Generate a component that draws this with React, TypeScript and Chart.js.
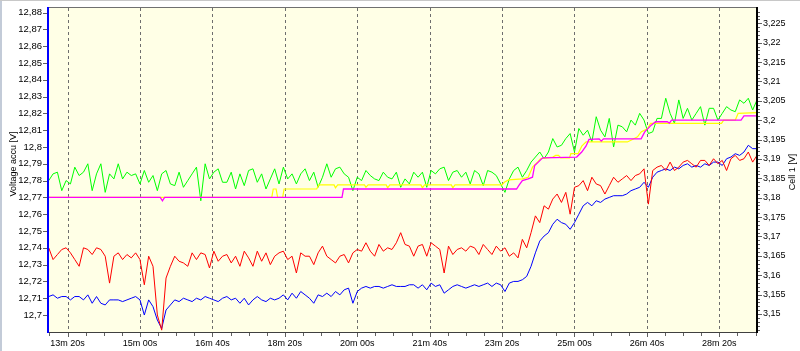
import React, { useEffect, useRef } from 'react';
import { Chart, registerables } from 'chart.js';

Chart.register(...registerables);

// Sampling of the noisy series: one value every 6 s starting at 774 s
const T_START = 774;
const T_STEP = 6;

const GREEN = [
  12.780, 12.784, 12.785, 12.774, 12.780, 12.778, 12.788, 12.783, 12.785, 12.790,
  12.774, 12.784, 12.790, 12.773, 12.784, 12.781, 12.790, 12.781, 12.785, 12.783,
  12.784, 12.778, 12.786, 12.779, 12.783, 12.774, 12.784, 12.786, 12.778, 12.777,
  12.785, 12.776, 12.780, 12.784, 12.788, 12.768, 12.790, 12.781, 12.785, 12.787,
  12.779, 12.779, 12.785, 12.775, 12.784, 12.777, 12.786, 12.787, 12.779, 12.784,
  12.775, 12.781, 12.787, 12.778, 12.788, 12.781, 12.784, 12.778, 12.784, 12.787,
  12.780, 12.785, 12.776, 12.782, 12.790, 12.782, 12.787, 12.788, 12.784, 12.782,
  12.774, 12.782, 12.780, 12.786, 12.783, 12.781, 12.780, 12.785, 12.782, 12.781,
  12.785, 12.776, 12.781, 12.778, 12.785, 12.782, 12.785, 12.776, 12.786, 12.784,
  12.787, 12.788, 12.780, 12.785, 12.786, 12.782, 12.785, 12.778, 12.786, 12.784,
  12.777, 12.786, 12.785, 12.783, 12.778, 12.773, 12.781, 12.786, 12.788, 12.782,
  12.786, 12.791, 12.794, 12.797, 12.793, 12.797, 12.805, 12.800, 12.801, 12.805,
  12.808, 12.797, 12.811, 12.807, 12.810, 12.803, 12.818, 12.810, 12.806, 12.817,
  12.800, 12.813, 12.812, 12.809, 12.816, 12.813, 12.820, 12.816, 12.808, 12.809,
  12.817, 12.817, 12.829, 12.820, 12.814, 12.828, 12.817, 12.823, 12.816, 12.820,
  12.824, 12.813, 12.823, 12.823, 12.816, 12.820, 12.824, 12.822, 12.821, 12.828,
  12.826, 12.829, 12.822, 12.828,
];

const RED = [
  12.740, 12.733, 12.736, 12.739, 12.740, 12.737, 12.733, 12.729, 12.740, 12.739,
  12.736, 12.740, 12.739, 12.735, 12.719, 12.735, 12.737, 12.733, 12.736, 12.734,
  12.737, 12.733, 12.718, 12.735, 12.729, 12.700, 12.691, 12.722, 12.729, 12.735,
  12.732, 12.731, 12.729, 12.737, 12.733, 12.737, 12.736, 12.728, 12.738, 12.732,
  12.735, 12.736, 12.731, 12.735, 12.729, 12.738, 12.734, 12.729, 12.738, 12.732,
  12.737, 12.730, 12.735, 12.737, 12.738, 12.733, 12.735, 12.725, 12.737, 12.735,
  12.735, 12.730, 12.737, 12.741, 12.735, 12.733, 12.731, 12.735, 12.736, 12.731,
  12.737, 12.739, 12.738, 12.743, 12.738, 12.735, 12.742, 12.738, 12.740, 12.739,
  12.743, 12.749, 12.742, 12.741, 12.735, 12.741, 12.742, 12.735, 12.743, 12.741,
  12.739, 12.725, 12.741, 12.736, 12.739, 12.740, 12.738, 12.741, 12.740, 12.736,
  12.742, 12.739, 12.736, 12.741, 12.738, 12.740, 12.735, 12.737, 12.734, 12.745,
  12.740, 12.749, 12.759, 12.755, 12.765, 12.763, 12.769, 12.772, 12.767, 12.773,
  12.760, 12.776, 12.777, 12.780, 12.774, 12.782, 12.778, 12.777, 12.772, 12.777,
  12.782, 12.779, 12.781, 12.783, 12.780, 12.783, 12.784, 12.787, 12.766, 12.786,
  12.788, 12.789, 12.786, 12.791, 12.786, 12.788, 12.791, 12.792, 12.790, 12.788,
  12.792, 12.792, 12.789, 12.793, 12.790, 12.792, 12.786, 12.793, 12.795, 12.792,
  12.793, 12.797, 12.791, 12.795,
];

const BLUE = [
  12.711, 12.712, 12.710, 12.711, 12.711, 12.709, 12.711, 12.711, 12.709, 12.712,
  12.707, 12.711, 12.707, 12.706, 12.709, 12.709, 12.709, 12.708, 12.709, 12.710,
  12.711, 12.709, 12.700, 12.709, 12.705, 12.697, 12.692, 12.703, 12.706, 12.709,
  12.708, 12.710, 12.709, 12.708, 12.710, 12.709, 12.711, 12.710, 12.709, 12.708,
  12.710, 12.711, 12.709, 12.710, 12.707, 12.710, 12.706, 12.709, 12.711, 12.709,
  12.708, 12.710, 12.709, 12.710, 12.712, 12.709, 12.713, 12.710, 12.714, 12.712,
  12.710, 12.707, 12.712, 12.711, 12.713, 12.711, 12.714, 12.712, 12.715, 12.716,
  12.707, 12.714, 12.716, 12.717, 12.716, 12.717, 12.717, 12.716, 12.717, 12.718,
  12.717, 12.717, 12.717, 12.718, 12.718, 12.716, 12.718, 12.715, 12.719, 12.717,
  12.718, 12.713, 12.715, 12.717, 12.718, 12.717, 12.716, 12.717, 12.718, 12.717,
  12.718, 12.719, 12.717, 12.719, 12.718, 12.714, 12.719, 12.720, 12.720, 12.721,
  12.723, 12.729, 12.737, 12.744, 12.747, 12.749, 12.754, 12.757, 12.755, 12.754,
  12.751, 12.755, 12.760, 12.765, 12.767, 12.765, 12.768, 12.767, 12.769, 12.770,
  12.771, 12.771, 12.771, 12.772, 12.774, 12.775, 12.776, 12.779, 12.776, 12.782,
  12.785, 12.786, 12.787, 12.786, 12.788, 12.787, 12.789, 12.790, 12.788, 12.789,
  12.788, 12.790, 12.789, 12.791, 12.791, 12.789, 12.793, 12.794, 12.796, 12.795,
  12.797, 12.801, 12.799, 12.799,
];

// Step-like series given as (time, value) corners
const MAGENTA_T = [774, 928, 931, 934, 1179, 1181, 1420, 1423, 1428, 1436, 1442, 1445, 1450, 1456, 1503, 1510, 1516, 1520, 1534, 1537, 1540, 1592, 1597, 1606, 1612, 1628, 1631, 1634, 1730, 1734, 1753];
const MAGENTA_V = [12.770, 12.770, 12.768, 12.770, 12.770, 12.775, 12.775, 12.777, 12.780, 12.781, 12.782, 12.789, 12.791, 12.7935, 12.794, 12.797, 12.8006, 12.8045, 12.8048, 12.8035, 12.8048, 12.8048, 12.809, 12.813, 12.815, 12.815, 12.8142, 12.816, 12.816, 12.8185, 12.8185];

const YELLOW_T = [774, 1082, 1084, 1088, 1090, 1097, 1099, 1144, 1147, 1168, 1170, 1173, 1210, 1212, 1215, 1240, 1242, 1245, 1288, 1290, 1293, 1330, 1332, 1335, 1400, 1403, 1409, 1428, 1436, 1442, 1449, 1453, 1470, 1474, 1478, 1481, 1493, 1495, 1505, 1510, 1516, 1573, 1580, 1587, 1592, 1601, 1605, 1703, 1706, 1722, 1726, 1753];
const YELLOW_V = [12.770, 12.770, 12.775, 12.775, 12.770, 12.770, 12.775, 12.775, 12.7774, 12.7774, 12.7757, 12.7774, 12.7774, 12.776, 12.7774, 12.7774, 12.7757, 12.7774, 12.7774, 12.7757, 12.7774, 12.7774, 12.7757, 12.7774, 12.7774, 12.779, 12.7804, 12.781, 12.782, 12.788, 12.791, 12.793, 12.794, 12.795, 12.795, 12.7935, 12.7935, 12.796, 12.796, 12.8005, 12.803, 12.803, 12.8045, 12.806, 12.809, 12.811, 12.814, 12.814, 12.816, 12.816, 12.820, 12.8205];

const X_LABEL_TIMES = [800, 900, 1000, 1100, 1200, 1300, 1400, 1500, 1600, 1700];
const LEFT_TICKS = [12.70, 12.71, 12.72, 12.73, 12.74, 12.75, 12.76, 12.77, 12.78, 12.79, 12.80, 12.81, 12.82, 12.83, 12.84, 12.85, 12.86, 12.87, 12.88];
const RIGHT_TICKS = [3.150, 3.155, 3.160, 3.165, 3.170, 3.175, 3.180, 3.185, 3.190, 3.195, 3.200, 3.205, 3.210, 3.215, 3.220, 3.225];

const X_MIN = 773;
const X_MAX = 1752;
const LEFT_MIN = 12.6899;
const LEFT_MAX = 12.8827;
const RIGHT_MIN = 3.14536;
const RIGHT_MAX = 3.22895;

const LEFT_TITLE = 'Voltage accu [V]';
const RIGHT_TITLE = 'Cell 1 [V]';

const FONT_FAMILY = '"Liberation Sans", Arial, sans-serif';
const FONT_SIZE = 9;
const LEFT_FONT_SIZE = 9.5;
const PLOT_BG = '#FFFFE6';

const sampled = (vals: number[]) => vals.map((v, i) => ({ x: T_START + i * T_STEP, y: v }));
const paired = (ts: number[], vs: number[]) => ts.map((t, i) => ({ x: t, y: vs[i] }));

const fmtTime = (v: number) => {
  const m = Math.floor(v / 60);
  const s = Math.round(v - m * 60);
  return `${m}m ${String(s).padStart(2, '0')}s`;
};
const fmtNum = (v: number, d: number) => String(Number(v.toFixed(d))).replace('.', ',');

const decorPlugin = {
  id: 'decor',
  beforeDraw(chart: any) {
    const { ctx, chartArea: a, width, height } = chart;
    ctx.save();
    ctx.fillStyle = '#ffffff';
    ctx.fillRect(0, 0, width, height);
    ctx.fillStyle = PLOT_BG;
    ctx.fillRect(a.left, a.top, a.right - a.left, a.bottom - a.top);
    const xs = chart.scales.x;
    ctx.strokeStyle = '#6e6e6e';
    ctx.lineWidth = 1;
    ctx.setLineDash([3, 3]);
    for (const t of X_LABEL_TIMES) {
      const px = Math.round(xs.getPixelForValue(t)) + 0.5;
      ctx.beginPath();
      ctx.moveTo(px, a.top);
      ctx.lineTo(px, a.bottom);
      ctx.stroke();
    }
    ctx.restore();
  },
  afterDraw(chart: any) {
    const { ctx, chartArea: a, width, height } = chart;
    const xs = chart.scales.x;
    const yl = chart.scales.y;
    const yr = chart.scales.y1;
    ctx.save();
    // frame
    ctx.fillStyle = '#707070';
    ctx.fillRect(a.left, a.top - 1, a.right - a.left, 1);
    ctx.fillStyle = '#404040';
    ctx.fillRect(a.left, a.bottom, a.right - a.left + 1, 1);
    ctx.fillStyle = '#0000ff';
    ctx.fillRect(a.left - 1, a.top - 1, 2, a.bottom - a.top + 2);
    ctx.fillStyle = '#000000';
    ctx.fillRect(a.right - 1, a.top - 1, 2, a.bottom - a.top + 2);

    // tick marks
    ctx.fillStyle = '#606060';
    for (const v of LEFT_TICKS) {
      const py = Math.round(yl.getPixelForValue(v));
      ctx.fillRect(a.left - 5, py, 4, 1);
    }
    for (let k = 3146; k <= 3228; k++) {
      const v = k / 1000;
      const py = Math.round(yr.getPixelForValue(v));
      const major = k % 5 === 0;
      ctx.fillRect(a.right + 1, py, major ? 4 : 2, 1);
    }
    for (let t = 775; t <= 1750; t += 25) {
      const px = Math.round(xs.getPixelForValue(t));
      const major = t % 100 === 0;
      ctx.fillRect(px, a.bottom + 1, 1, major ? 4 : 3);
    }

    // axis titles
    ctx.fillStyle = '#000000';
    ctx.font = `${FONT_SIZE}px ${FONT_FAMILY}`;
    ctx.textAlign = 'center';
    ctx.textBaseline = 'middle';
    ctx.save();
    ctx.translate(13.5, 164);
    ctx.rotate(-Math.PI / 2);
    ctx.fillText(LEFT_TITLE, 0, 0);
    ctx.restore();
    ctx.save();
    ctx.translate(792.5, 172);
    ctx.rotate(-Math.PI / 2);
    ctx.fillText(RIGHT_TITLE, 0, 0);
    ctx.restore();

    // outer window edges
    ctx.fillStyle = '#c3cbd8';
    ctx.fillRect(0, 0, 2, height);
    ctx.fillStyle = '#c8c8c8';
    ctx.fillRect(0, 0, width, 1);
    ctx.restore();
  },
};

export default function App() {
  const ref = useRef<HTMLCanvasElement | null>(null);

  useEffect(() => {
    if (!ref.current) return;
    const line = (label: string, data: any[], color: string, width = 1) => ({
      label,
      data,
      borderColor: color,
      backgroundColor: color,
      borderWidth: width,
      pointRadius: 0,
      pointHoverRadius: 0,
      tension: 0,
      fill: false,
      yAxisID: 'y',
    });
    const tickFont = { family: FONT_FAMILY, size: FONT_SIZE };
    const chart = new Chart(ref.current, {
      type: 'line',
      data: {
        datasets: [
          line('Magenta', paired(MAGENTA_T, MAGENTA_V), '#ff00ff', 1.3),
          line('Yellow', paired(YELLOW_T, YELLOW_V), '#ffff00', 1.2),
          line('Green', sampled(GREEN), '#00ff00'),
          line('Red', sampled(RED), '#ff0000'),
          line('Blue', sampled(BLUE), '#0000ff'),
        ],
      },
      plugins: [decorPlugin],
      options: {
        responsive: false,
        animation: false,
        devicePixelRatio: 1,
        layout: { padding: { top: 8, left: 0, right: 0, bottom: 0 } },
        plugins: {
          legend: { display: false },
          tooltip: { enabled: false },
          title: { display: false },
        },
        events: [],
        scales: {
          x: {
            type: 'linear',
            position: 'bottom',
            min: X_MIN,
            max: X_MAX,
            grid: { display: false, drawTicks: false },
            border: { display: false },
            afterBuildTicks: (s: any) => {
              s.ticks = X_LABEL_TIMES.map((v) => ({ value: v }));
            },
            afterFit: (s: any) => {
              s.height = 19;
              s.paddingLeft = 0;
              s.paddingRight = 0;
            },
            ticks: {
              autoSkip: false,
              maxRotation: 0,
              minRotation: 0,
              padding: 6,
              color: '#000',
              font: tickFont,
              callback: (v: any) => fmtTime(Number(v)),
            },
          },
          y: {
            type: 'linear',
            position: 'left',
            min: LEFT_MIN,
            max: LEFT_MAX,
            grid: { display: false, drawTicks: false },
            border: { display: false },
            afterBuildTicks: (s: any) => {
              s.ticks = LEFT_TICKS.map((v) => ({ value: v }));
            },
            afterFit: (s: any) => {
              s.width = 48;
              s.paddingTop = 0;
              s.paddingBottom = 0;
            },
            ticks: {
              autoSkip: false,
              padding: 6,
              color: '#000',
              font: { family: FONT_FAMILY, size: LEFT_FONT_SIZE },
              callback: (v: any) => fmtNum(Number(v), 2),
            },
          },
          y1: {
            type: 'linear',
            position: 'right',
            min: RIGHT_MIN,
            max: RIGHT_MAX,
            grid: { display: false, drawTicks: false },
            border: { display: false },
            afterBuildTicks: (s: any) => {
              s.ticks = RIGHT_TICKS.map((v) => ({ value: v }));
            },
            afterFit: (s: any) => {
              s.width = 43;
              s.paddingTop = 0;
              s.paddingBottom = 0;
            },
            ticks: {
              autoSkip: false,
              padding: 6,
              color: '#000',
              font: tickFont,
              callback: (v: any) => fmtNum(Number(v), 3),
            },
          },
        },
      },
    } as any);
    return () => chart.destroy();
  }, []);

  return (
    <div style={{ position: 'absolute', left: 0, top: 0, width: 800, height: 351 }}>
      <canvas ref={ref} width={800} height={351} style={{ display: 'block' }} />
    </div>
  );
}
